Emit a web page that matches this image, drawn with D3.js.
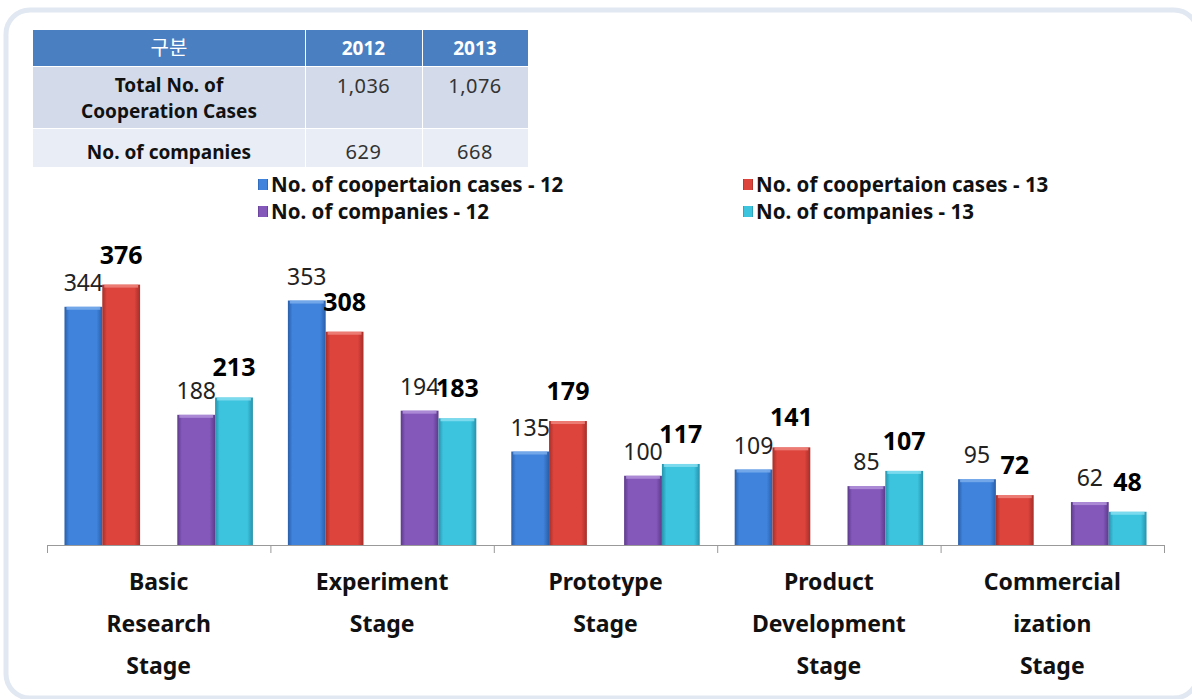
<!DOCTYPE html>
<html>
<head>
<meta charset="utf-8">
<script src="https://cdn.jsdelivr.net/npm/d3@7"></script>
<style>
  body { margin: 0; background: #fff; }
  svg text { font-family: "Noto Sans", "Noto Sans CJK KR", sans-serif; }
</style>
</head>
<body>
<div id="main"></div>
<script>
// ---- data ----
var stageNames = ["Basic Research Stage", "Experiment Stage", "Prototype Stage", "Product Development Stage", "Commercialization Stage"]
var stageLines = [["Basic", "Research", "Stage"], ["Experiment", "Stage"], ["Prototype", "Stage"], ["Product", "Development", "Stage"], ["Commercial", "ization", "Stage"]]

var cases12 = [344, 353, 135, 109, 95]
var cases13 = [376, 308, 179, 141, 72]
var companies12 = [188, 194, 100, 85, 62]
var companies13 = [213, 183, 117, 107, 48]

var seriesNames = ["No. of coopertaion cases - 12", "No. of coopertaion cases - 13", "No. of companies - 12", "No. of companies - 13"]

var tableHeader = ["구분", "2012", "2013"]
var tableRowLabels = [["Total No. of", "Cooperation Cases"], ["No. of companies"]]
var tableValues = [["1,036", "1,076"], ["629", "668"]]

// ---- setup ----
var width = 1192, height = 699

var svg = d3.select("#main")
            .append("svg")
            .attr("width", width)
            .attr("height", height)

var defs = svg.append("defs")

// outer rounded panel
svg.append("rect")
   .attr("x", 6).attr("y", 10)
   .attr("width", 1192).attr("height", 688)
   .attr("rx", 24)
   .attr("fill", "#fff")
   .attr("stroke", "#e1e8f1")
   .attr("stroke-width", 5)

// series setup
var series = [
  {name: seriesNames[0], group: "cases", year: "12", values: cases12},
  {name: seriesNames[1], group: "cases", year: "13", values: cases13},
  {name: seriesNames[2], group: "companies", year: "12", values: companies12},
  {name: seriesNames[3], group: "companies", year: "13", values: companies13}
]
var palette = [
  {mid: "#3f83dc", edge: "#2a5ea8", top: "#7fb0ee"},
  {mid: "#dc443c", edge: "#a52e29", top: "#f08a82"},
  {mid: "#8458bb", edge: "#5c3a8a", top: "#b596dc"},
  {mid: "#3cc3de", edge: "#2792ab", top: "#8be0f0"}
]

palette.forEach(function(p, i){
  var g = defs.append("linearGradient")
              .attr("id", "grad" + i)
              .attr("x1", "0%").attr("x2", "100%")
              .attr("y1", "0%").attr("y2", "0%")
  g.append("stop").attr("offset", "0%").attr("stop-color", p.edge)
  g.append("stop").attr("offset", "12%").attr("stop-color", p.mid)
  g.append("stop").attr("offset", "85%").attr("stop-color", p.mid)
  g.append("stop").attr("offset", "100%").attr("stop-color", p.edge)
})

// ---- table ----
var colX = [33, 305, 422, 528]
var rowY = [30, 66, 128, 167]
var rowFill = ["#4a7fc1", "#d3dbea", "#e9eef6"]
var table = svg.append("g")

for (var r = 0; r < 3; r++) {
  for (var c = 0; c < 3; c++) {
    table.append("rect")
         .attr("x", colX[c] + (c > 0 ? 1 : 0))
         .attr("y", rowY[r] + (r > 0 ? 1 : 0))
         .attr("width", colX[c + 1] - colX[c] - (c > 0 ? 1 : 0))
         .attr("height", rowY[r + 1] - rowY[r] - (r > 0 ? 1 : 0))
         .attr("fill", rowFill[r])
  }
}
tableHeader.forEach(function(t, c){
  table.append("text")
       .attr("x", (colX[c] + colX[c + 1]) / 2)
       .attr("y", 55)
       .attr("text-anchor", "middle")
       .attr("fill", "#fff")
       .style("font-size", c > 0 ? "19px" : "20px")
       .style("font-weight", c > 0 ? "bold" : "normal")
       .text(t)
})
tableRowLabels.forEach(function(lines, r){
  lines.forEach(function(l, k){
    table.append("text")
         .attr("x", (colX[0] + colX[1]) / 2)
         .attr("y", (r == 0 ? 92 : 159) + k * 26)
         .attr("text-anchor", "middle")
         .attr("fill", "#111")
         .style("font-size", "19px")
         .style("font-weight", "bold")
         .text(l)
  })
  tableValues[r].forEach(function(v, c){
    table.append("text")
         .attr("x", (colX[c + 1] + colX[c + 2]) / 2)
         .attr("y", r == 0 ? 93 : 159)
         .attr("text-anchor", "middle")
         .attr("fill", "#333")
         .style("font-size", "20px")
         .style("letter-spacing", "0.5px")
         .text(v)
  })
})

// ---- legend ----
var legend = svg.append("g")
var legendPos = [[258, 185], [743, 185], [258, 212], [743, 212]]
series.forEach(function(s, i){
  var lg = legend.append("g").attr("transform", "translate(" + legendPos[i][0] + "," + legendPos[i][1] + ")")
  lg.append("rect")
    .attr("x", 0).attr("y", -6)
    .attr("width", 10).attr("height", 11)
    .attr("fill", "url(#grad" + i + ")")
  lg.append("text")
    .attr("x", 13).attr("y", 7)
    .attr("fill", "#111")
    .style("font-size", "20.5px")
    .style("font-weight", "bold")
    .text(s.name)
})

// ---- scales ----
var baseY = 545
var x0 = d3.scaleBand()
           .domain(stageNames)
           .range([47, 1164])
var xGroup = d3.scaleBand()
               .domain(["cases", "companies"])
               .range([0, x0.bandwidth()])
               .paddingInner(0.33)
               .paddingOuter(0.155)
var xYear = d3.scaleBand()
              .domain(["12", "13"])
              .range([0, xGroup.bandwidth()])
var y = d3.scaleLinear()
          .domain([0, 400])
          .range([baseY, baseY - 277])

// ---- bars ----
var bars = svg.append("g")
series.forEach(function(s, i){
  var g = bars.append("g")
  var sel = g.selectAll("g")
             .data(s.values)
             .enter()
             .append("g")
             .attr("transform", function(d, j){
               return "translate(" + (x0(stageNames[j]) + xGroup(s.group) + xYear(s.year)) + ",0)"
             })
  sel.append("rect")
     .attr("x", 0)
     .attr("y", function(d){ return y(d) })
     .attr("width", xYear.bandwidth())
     .attr("height", function(d){ return baseY - y(d) })
     .attr("fill", "url(#grad" + i + ")")
  sel.append("rect")
     .attr("x", 2)
     .attr("y", function(d){ return y(d) })
     .attr("width", xYear.bandwidth() - 4)
     .attr("height", 3)
     .attr("fill", palette[i].top)
     .attr("opacity", 0.8)
  sel.append("text")
     .attr("x", xYear.bandwidth() / 2)
     .attr("y", function(d){ return y(d) - (s.year == "13" ? 21 : 16) })
     .attr("text-anchor", "middle")
     .attr("fill", s.year == "13" ? "#000" : "#222")
     .style("font-size", s.year == "13" ? "25px" : "23px")
     .style("font-weight", s.year == "13" ? "bold" : "normal")
     .text(function(d){ return d })
})

// ---- x axis ----
var axis = svg.append("g")
axis.append("line")
    .attr("x1", x0.range()[0]).attr("x2", x0.range()[1])
    .attr("y1", baseY + 0.5).attr("y2", baseY + 0.5)
    .attr("stroke", "#999")
var bounds = stageNames.map(function(d){ return x0(d) }).concat([x0.range()[1]])
axis.selectAll(".tick")
    .data(bounds)
    .enter()
    .append("line")
    .attr("x1", function(d){ return d + 0.5 }).attr("x2", function(d){ return d + 0.5 })
    .attr("y1", baseY).attr("y2", baseY + 8)
    .attr("stroke", "#999")

stageLines.forEach(function(lines, j){
  lines.forEach(function(l, k){
    axis.append("text")
        .attr("x", x0(stageNames[j]) + x0.bandwidth() / 2)
        .attr("y", 590 + k * 42)
        .attr("text-anchor", "middle")
        .attr("fill", "#111")
        .style("font-size", "23px")
        .style("font-weight", "bold")
        .text(l)
  })
})
</script>
</body>
</html>
